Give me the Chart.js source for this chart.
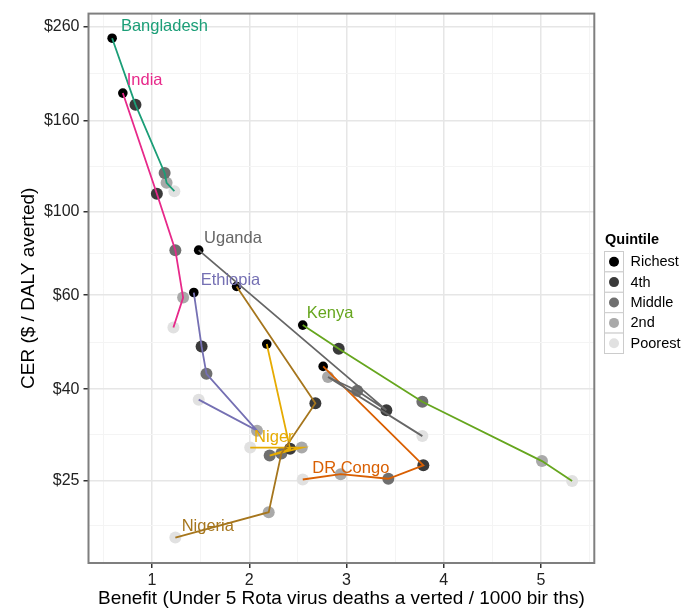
<!DOCTYPE html>
<html>
<head>
<meta charset="utf-8">
<script src="https://cdn.jsdelivr.net/npm/chart.js@4.4.0/dist/chart.umd.min.js"></script>
<style>
  html, body { margin: 0; padding: 0; background: #fff; }
  canvas { display: block; }
</style>
</head>
<body>
<canvas id="canvas" width="683" height="609"></canvas>
<script>
// income quintiles, richest first
const quintiles = ['Richest', '4th', 'Middle', '2nd', 'Poorest'];
const quintileColors = ['#000000', '#3a3a3a', '#6f6f6f', '#a9a9a9', '#e1e1e1'];

// benefit = rotavirus deaths averted per 1000 births, cer = $ per DALY averted
// each array runs Richest -> Poorest
const bangladeshBenefit = [0.59, 0.83, 1.13, 1.15, 1.23];
const bangladeshCer     = [244.9, 173.8, 122.2, 116.1, 111.2];
const indiaBenefit      = [0.70, 1.05, 1.24, 1.32, 1.22];
const indiaCer          = [184.5, 109.7, 82.0, 64.2, 55.0];
const ugandaBenefit     = [1.48, 3.41, 3.11, 2.81, 3.78];
const ugandaCer         = [82.0, 35.9, 39.7, 42.6, 31.4];
const ethiopiaBenefit   = [1.43, 1.51, 1.56, 2.08, 1.48];
const ethiopiaCer       = [65.9, 49.9, 43.3, 32.3, 37.9];
const kenyaBenefit      = [2.55, 2.92, 3.78, 5.01, 5.32];
const kenyaCer          = [55.7, 49.3, 37.5, 27.6, 24.9];
const nigeriaBenefit    = [1.87, 2.68, 2.33, 2.20, 1.24];
const nigeriaCer        = [68.0, 37.2, 28.7, 21.2, 18.6];
const nigerBenefit      = [2.18, 2.42, 2.21, 2.54, 2.01];
const nigerCer          = [50.5, 29.4, 28.4, 29.6, 29.6];
const drCongoBenefit    = [2.76, 3.79, 3.43, 2.94, 2.55];
const drCongoCer        = [45.0, 27.0, 25.2, 25.8, 25.1];

// axis ticks
const xTicks = [1, 2, 3, 4, 5];
const yTicks = [25, 40, 65, 100, 160, 260];
const yTickLabels = ['$25', '$40', '$60', '$100', '$160', '$260'];

const countries = [
  { name: 'Bangladesh', color: '#1b9e77', benefit: bangladeshBenefit, cer: bangladeshCer, label: [0.68, 260] },
  { name: 'India',      color: '#e7298a', benefit: indiaBenefit,      cer: indiaCer,      label: [0.74, 197] },
  { name: 'Uganda',     color: '#666666', benefit: ugandaBenefit,     cer: ugandaCer,     label: [1.535, 87.3] },
  { name: 'Ethiopia',   color: '#7570b3', benefit: ethiopiaBenefit,   cer: ethiopiaCer,   label: [1.50, 70.0] },
  { name: 'Kenya',      color: '#66a61e', benefit: kenyaBenefit,      cer: kenyaCer,      label: [2.59, 59.2] },
  { name: 'Nigeria',    color: '#a6761d', benefit: nigeriaBenefit,    cer: nigeriaCer,    label: [1.305, 19.7] },
  { name: 'Niger',      color: '#e6ab02', benefit: nigerBenefit,      cer: nigerCer,      label: [2.05, 31.2] },
  { name: 'DR Congo',   color: '#d95f02', benefit: drCongoBenefit,    cer: drCongoCer,    label: [2.648, 26.6] },
];

const FONT = '"Liberation Sans", Arial, Helvetica, sans-serif';
Chart.defaults.font.family = FONT;

// minor grid lines sit halfway between the majors
const xGrid = [0.5, 1, 1.5, 2, 2.5, 3, 3.5, 4, 4.5, 5, 5.5];
const yGrid = [yTicks[0] * Math.sqrt(yTicks[0] / yTicks[1])];
yTicks.forEach((v, i) => {
  yGrid.push(v);
  if (i < yTicks.length - 1) yGrid.push(Math.sqrt(v * yTicks[i + 1]));
});
const isMajor = (list, v) => list.some(t => Math.abs(t - v) < 1e-6);

const lineSets = countries.map(c => ({
  label: c.name,
  data: c.benefit.map((b, i) => ({ x: b, y: c.cer[i] })),
  showLine: true,
  borderColor: c.color,
  borderWidth: 1.8,
  pointRadius: 0,
  pointHoverRadius: 0,
  order: 0,
}));

const pointSets = quintiles.map((q, qi) => ({
  label: q,
  data: countries.map(c => ({ x: c.benefit[qi], y: c.cer[qi] })),
  backgroundColor: quintileColors[qi],
  borderWidth: 0,
  pointRadius: qi === 0 ? 4.8 : 6,
  pointHoverRadius: qi === 0 ? 4.8 : 6,
  order: 1,
}));

const decorations = {
  id: 'decorations',
  afterDatasetsDraw(chart) {
    const { ctx, chartArea: a, scales: { x, y } } = chart;
    ctx.save();

    // country names
    ctx.font = '16.5px ' + FONT;
    ctx.textAlign = 'left';
    ctx.textBaseline = 'middle';
    countries.forEach(c => {
      ctx.fillStyle = c.color;
      ctx.fillText(c.name, x.getPixelForValue(c.label[0]), y.getPixelForValue(c.label[1]));
    });

    // panel border
    ctx.strokeStyle = '#7f7f7f';
    ctx.lineWidth = 2;
    ctx.strokeRect(a.left, a.top, a.right - a.left, a.bottom - a.top);

    // axis titles
    ctx.fillStyle = '#000';
    ctx.font = '19px ' + FONT;
    ctx.textAlign = 'center';
    ctx.textBaseline = 'alphabetic';
    ctx.fillText('Benefit (Under 5 Rota virus deaths a verted / 1000 bir ths)', (a.left + a.right) / 2, 604);
    ctx.save();
    ctx.translate(33.5, (a.top + a.bottom) / 2);
    ctx.rotate(-Math.PI / 2);
    ctx.fillText('CER ($ / DALY averted)', 0, 0);
    ctx.restore();

    // quintile legend
    const lx = 604.5, ly = 251.5, kw = 19, kh = 20.4;
    ctx.textAlign = 'left';
    ctx.textBaseline = 'middle';
    ctx.font = 'bold 14.5px ' + FONT;
    ctx.fillText('Quintile', 605, 240);
    ctx.font = '14.5px ' + FONT;
    quintiles.forEach((q, i) => {
      const top = ly + i * kh;
      ctx.fillStyle = '#fff';
      ctx.fillRect(lx, top, kw, kh);
      ctx.strokeStyle = '#cccccc';
      ctx.lineWidth = 1;
      ctx.strokeRect(lx, top, kw, kh);
      ctx.beginPath();
      ctx.arc(lx + kw / 2, top + kh / 2, 5, 0, Math.PI * 2);
      ctx.fillStyle = quintileColors[i];
      ctx.fill();
      ctx.fillStyle = '#000';
      ctx.fillText(q, 630.5, top + kh / 2 + 0.5);
    });
    ctx.restore();
  }
};

new Chart(document.getElementById('canvas').getContext('2d'), {
  type: 'scatter',
  data: { datasets: [...lineSets, ...pointSets] },
  options: {
    responsive: false,
    animation: false,
    devicePixelRatio: 1,
    layout: { padding: { left: 0, top: 12, right: 88.7, bottom: 0 } },
    plugins: { legend: { display: false }, tooltip: { enabled: false } },
    scales: {
      x: {
        type: 'linear',
        bounds: 'data',
        min: 0.347,
        max: 5.548,
        afterBuildTicks: s => { s.ticks = xGrid.map(v => ({ value: v })); },
        afterFit: s => { s.height = 46; },
        border: { display: false },
        grid: {
          color: c => isMajor(xTicks, c.tick.value) ? '#e6e6e6' : '#f4f4f4',
          lineWidth: c => isMajor(xTicks, c.tick.value) ? 1.5 : 1,
          tickColor: c => isMajor(xTicks, c.tick.value) ? '#333' : 'rgba(0,0,0,0)',
          tickLength: 5,
          tickWidth: 1.5,
        },
        ticks: {
          autoSkip: false,
          maxRotation: 0,
          padding: 3,
          color: '#222',
          font: { size: 16 },
          callback: v => isMajor(xTicks, v) ? String(v) : '',
        },
      },
      y: {
        type: 'logarithmic',
        bounds: 'data',
        min: 16.31,
        max: 278.1,
        afterBuildTicks: s => { s.ticks = yGrid.map(v => ({ value: v })); },
        afterFit: s => { s.width = 88.5; },
        border: { display: false },
        grid: {
          color: c => isMajor(yTicks, c.tick.value) ? '#e6e6e6' : '#f4f4f4',
          lineWidth: c => isMajor(yTicks, c.tick.value) ? 1.5 : 1,
          tickColor: c => isMajor(yTicks, c.tick.value) ? '#333' : 'rgba(0,0,0,0)',
          tickLength: 5,
          tickWidth: 1.5,
        },
        ticks: {
          autoSkip: false,
          padding: 4,
          color: '#222',
          font: { size: 16 },
          callback: v => {
            const i = yTicks.findIndex(t => Math.abs(t - v) < 1e-6);
            return i >= 0 ? yTickLabels[i] : '';
          },
        },
      },
    },
  },
  plugins: [decorations],
});
</script>
</body>
</html>
